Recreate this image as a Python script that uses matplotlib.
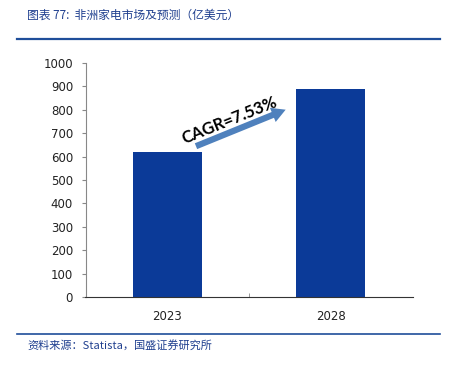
import numpy as np
import matplotlib.pyplot as plt
from matplotlib.lines import Line2D
import matplotlib.patheffects as pe

plt.rcParams['font.family'] = ['DejaVu Sans', 'Noto Sans CJK SC']

years = ["2023", "2028"]
values = [620, 888]
cagr_label = "CAGR=7.53%"
title = "图表 77:  非洲家电市场及预测（亿美元）"
source = "资料来源：Statista，国盛证券研究所"

bar_color = "#0b3a98"
text_blue = "#1f3f8f"

fig = plt.figure(figsize=(4.5, 3.65), dpi=100)
ax = fig.add_axes([85.5 / 450, 68 / 365, 327 / 450, 234 / 365])

x = np.arange(len(years))
ax.bar(x, values, width=0.42, color=bar_color, zorder=2)

ax.set_xlim(-0.5, 1.5)
ax.set_ylim(0, 1000)
ax.set_yticks(np.arange(0, 1001, 100))
ax.set_xticks(x)
ax.set_xticklabels(years, fontsize=8.5, color="#222222")
ax.tick_params(axis="x", length=0, pad=9)
ax.tick_params(axis="y", direction="out", length=3, color="#888888",
               labelsize=8.5, labelcolor="#222222", pad=6)
ax.set_xticks([0.5], minor=True)
ax.tick_params(axis="x", which="minor", direction="in", length=3, color="#888888")

for side in ["top", "right"]:
    ax.spines[side].set_visible(False)
ax.spines["left"].set_color("#888888")
ax.spines["bottom"].set_color("#333333")

# growth arrow with a soft shadow
ax.annotate("", xy=(0.74, 805), xytext=(0.16, 640),
            arrowprops=dict(arrowstyle="simple,head_length=1.0,head_width=1.1,tail_width=0.45",
                            color="#4f81bd", lw=0,
                            path_effects=[pe.SimpleLineShadow(offset=(1.5, -1.5), alpha=0.25),
                                          pe.Normal()]),
            zorder=3)
ax.text(0.38, 755, cagr_label, rotation=22, ha="center", va="center",
        fontsize=12, fontweight="bold", color="black", family="Lato", zorder=4)

# header and footer
fig.text(27 / 450, 1 - 15 / 365, title, fontsize=8.5, color=text_blue,
         style="italic", va="center", ha="left",
         family=["Noto Sans CJK SC", "DejaVu Sans"])
fig.add_artist(Line2D([17 / 450, 440 / 450], [1 - 39 / 365] * 2, color="#1f4e9a", lw=1.6))
fig.add_artist(Line2D([17 / 450, 440 / 450], [1 - 334 / 365] * 2, color="#1f4e9a", lw=1.2))
fig.text(27 / 450, 1 - 345 / 365, source, fontsize=8, color=text_blue,
         style="italic", va="center", ha="left",
         family=["Noto Sans CJK SC", "DejaVu Sans"])

fig.savefig("out.png", dpi=100)
